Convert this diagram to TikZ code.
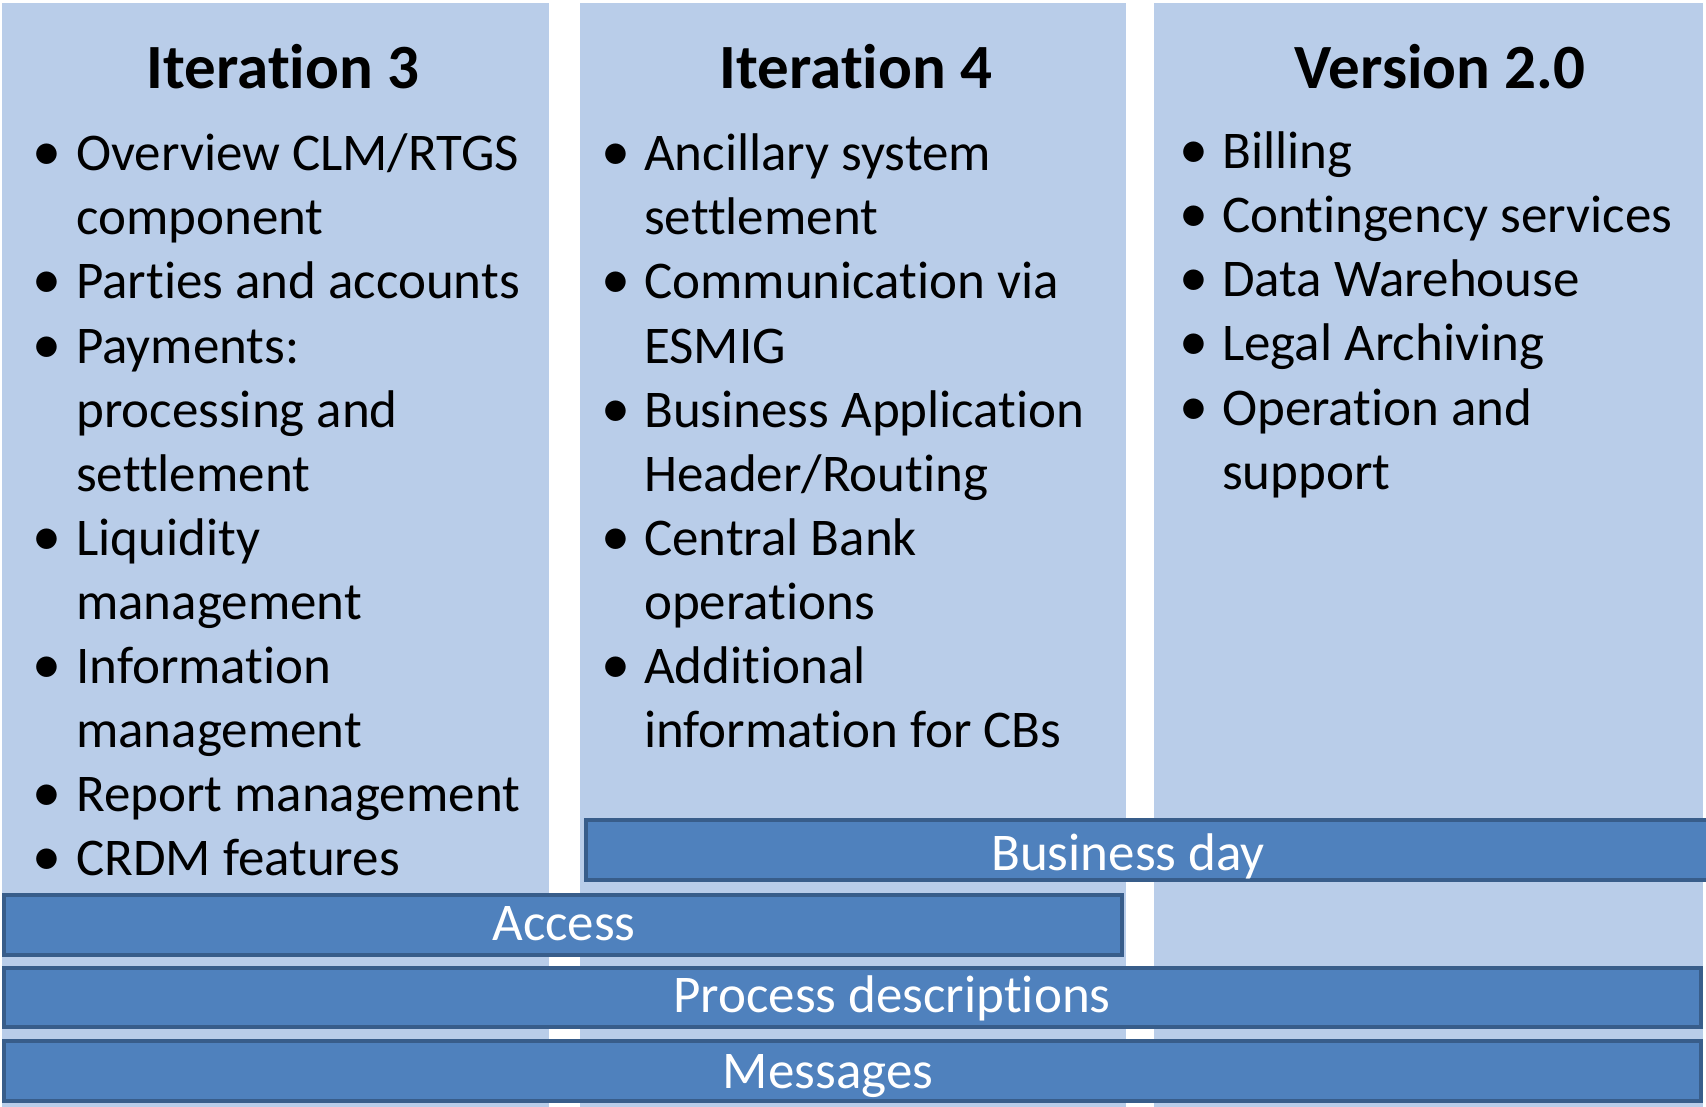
\documentclass[tikz,border=0pt]{standalone}
\usepackage{fontspec}
\setmainfont{Carlito}[Ligatures={NoCommon}]
\usepackage{tikz}
\usetikzlibrary{positioning}

\definecolor{colfill}{RGB}{185,205,233}
\definecolor{barfill}{RGB}{79,129,189}
\definecolor{barline}{RGB}{56,93,138}

\begin{document}
\begin{tikzpicture}[x=1pt, y=-1pt,
		column/.style={fill=colfill},
		bar/.style={fill=barfill, draw=barline, line width=4pt},
		title/.style={anchor=base, inner sep=0pt, font=\fontsize{63}{76}\selectfont\bfseries},
		item/.style={anchor=base west, inner sep=0pt, font=\fontsize{53}{64}\selectfont},
		dot/.style={anchor=base, inner sep=0pt, font=\fontsize{58}{64}\selectfont},
		barlabel/.style={anchor=base, inner sep=0pt, text=white, font=\fontsize{53}{64}\selectfont}]
			\useasboundingbox (0,0) rectangle (1706,1107);
			
			% Three light columns
			\fill[column] (2,3) rectangle (549,1107);
			\fill[column] (580,3) rectangle (1126,1107);
			\fill[column] (1154,3) rectangle (1703,1107);
			
			% Column titles
			\node[title] (it3) at (283,89) {Iteration 3};
			\node[title] (it4) at (856,89) {Iteration 4};
			\node[title] (v20) at (1440,89) {Version 2.0};
			
			% Iteration 3 items
			\foreach \n/\txt/\b in {0/{Overview CLM/RTGS}/1, 1/component/0, 2/Parties and accounts/1,
				3/Payments:/1, 4/processing and/0, 5/settlement/0, 6/Liquidity/1, 7/management/0,
				8/Information/1, 9/management/0, 10/Report management/1, 11/CRDM features/1}{
				\node[item] (a\n) at (76,171+64*\n) {\txt};
				\ifnum\b=1 \node[dot] (da\n) at (47,171+64*\n) {\textbullet}; \fi
			}
			
			% Iteration 4 items
			\foreach \n/\txt/\b in {0/Ancillary system/1, 1/settlement/0, 2/Communication via/1,
				3/ESMIG/0, 4/Business Application/1, 5/{Header/Routing}/0, 6/Central Bank/1,
				7/operations/0, 8/Additional/1, 9/information for CBs/0}{
				\node[item] (b\n) at (644,171+64*\n) {\txt};
				\ifnum\b=1 \node[dot] (db\n) at (616,171+64*\n) {\textbullet}; \fi
			}
			
			% Version 2.0 items
			\foreach \n/\txt/\b in {0/Billing/1, 1/Contingency services/1, 2/Data Warehouse/1,
				3/Legal Archiving/1, 4/Operation and/1, 5/support/0}{
				\node[item] (c\n) at (1222,169+64*\n) {\txt};
				\ifnum\b=1 \node[dot] (dc\n) at (1194,169+64*\n) {\textbullet}; \fi
			}
			
			% Cross-cutting bars
			\draw[bar] (586,820) rectangle (1710,880);
			\draw[bar] (4,895) rectangle (1122,955);
			\draw[bar] (4,968) rectangle (1701,1027);
			\draw[bar] (4,1041) rectangle (1701,1101);
			
			\node[barlabel] (busday) at (1128,870) {Business day};
			\node[barlabel] (access) at (564,940) {Access};
			\node[barlabel] (process) at (892,1012) {Process descriptions};
			\node[barlabel] (messages) at (828,1088) {Messages};
		\end{tikzpicture}
\end{document}
